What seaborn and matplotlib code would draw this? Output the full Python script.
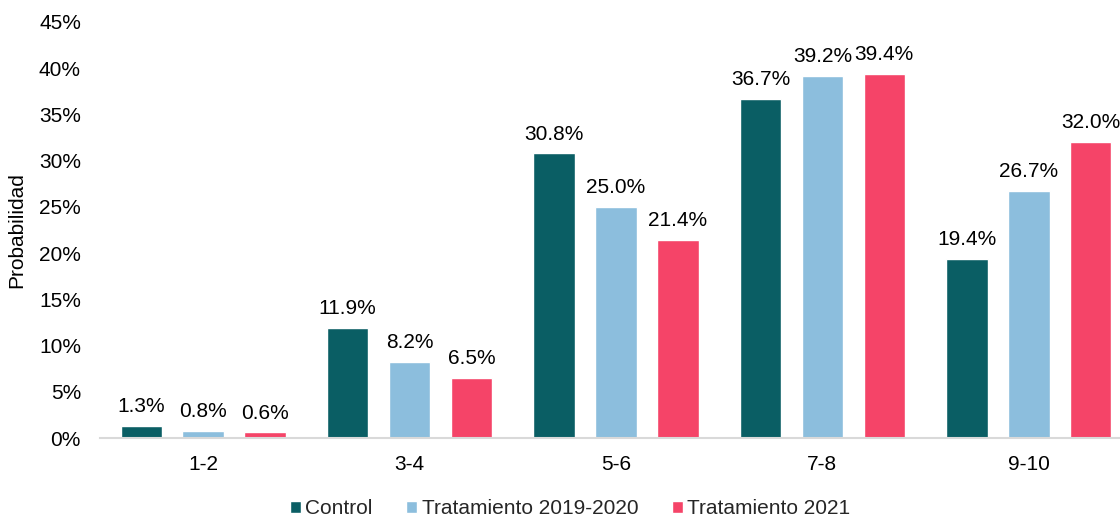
import matplotlib
matplotlib.use("Agg")
import matplotlib.pyplot as plt
import seaborn as sns
import pandas as pd
from matplotlib.ticker import FuncFormatter

# Probability by score range, per group (percent)
categories = ['1-2', '3-4', '5-6', '7-8', '9-10']
groups = ['Control', 'Tratamiento 2019-2020', 'Tratamiento 2021']
control = [1.3, 11.9, 30.8, 36.7, 19.4]
trat_2019_2020 = [0.8, 8.2, 25.0, 39.2, 26.7]
trat_2021 = [0.6, 6.5, 21.4, 39.4, 32.0]

colors = ['#0A5E64', '#8CBEDD', '#F54468']

df = pd.DataFrame({
    'Rango': categories * 3,
    'Grupo': [groups[0]] * 5 + [groups[1]] * 5 + [groups[2]] * 5,
    'Valor': control + trat_2019_2020 + trat_2021,
})

sns.set_theme(style="white")
plt.rcParams['font.family'] = ['Liberation Sans', 'DejaVu Sans']

fig = plt.figure(figsize=(11.2, 5.2), dpi=100)
ax = fig.add_axes([100 / 1120, 82 / 520, 1032 / 1120, 416 / 520])

sns.barplot(data=df, x='Rango', y='Valor', hue='Grupo', palette=colors,
            saturation=1, width=0.9, gap=0.33, ax=ax, legend=True)

for cont in ax.containers:
    ax.bar_label(cont, fmt='%.1f%%', padding=7, fontsize=15, color='#000000')

ax.set_ylim(0, 45)
ax.set_xlim(-0.5, 4.5)
ax.set_yticks(range(0, 50, 5))
ax.yaxis.set_major_formatter(FuncFormatter(lambda v, p: f'{v:.0f}%'))
ax.tick_params(axis='both', length=0, labelsize=15, colors='#000000')
ax.tick_params(axis='y', pad=13.7)
ax.tick_params(axis='x', pad=12)
ax.set_xlabel('')
ax.set_ylabel('Probabilidad', fontsize=15, color='#000000')
ax.yaxis.set_label_coords(-0.071, 0.5)

for s in ['top', 'right', 'left']:
    ax.spines[s].set_visible(False)
ax.spines['bottom'].set_color('#D9D9D9')
ax.spines['bottom'].set_linewidth(1.5)

handles, labels = ax.get_legend_handles_labels()
ax.legend_.remove()
fig.legend(handles, labels, loc='center', bbox_to_anchor=(570 / 1120, 11 / 520),
           ncol=3, frameon=False, fontsize=15, handlelength=0.55, handleheight=0.55,
           handletextpad=0.2, columnspacing=1.6, borderpad=0)

fig.savefig('out.png', dpi=100)
